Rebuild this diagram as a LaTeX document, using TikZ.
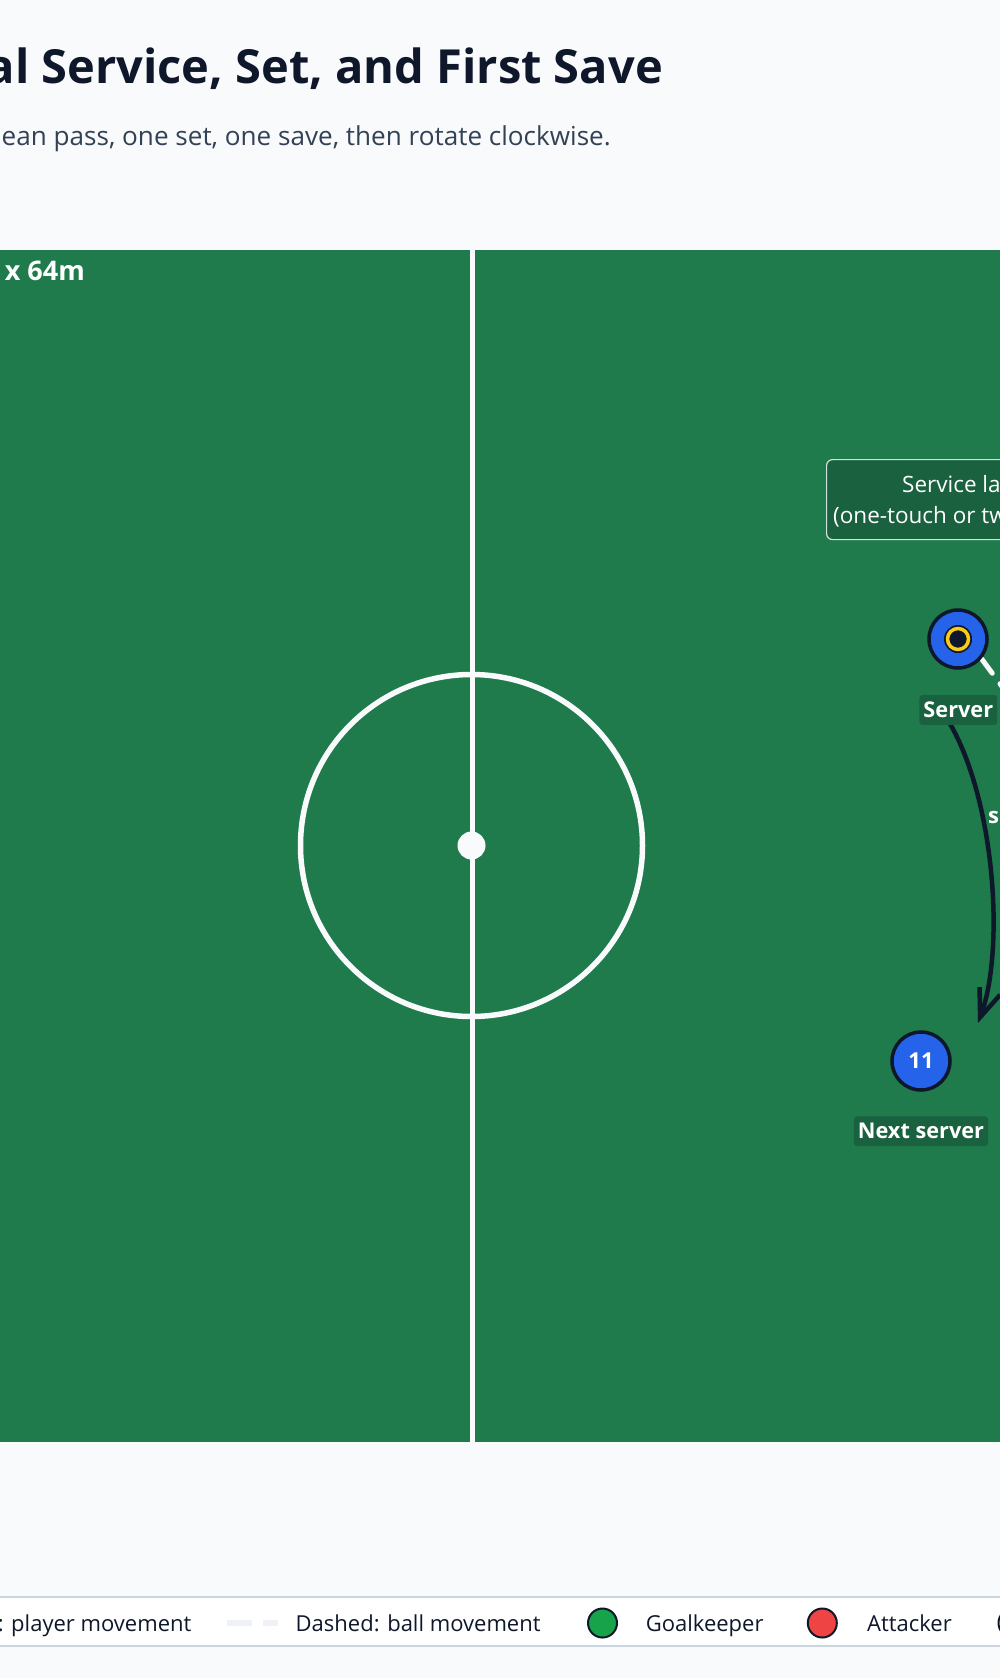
\documentclass[tikz,border=0pt]{standalone}
\usepackage{fontspec}
\setmainfont{Open Sans}
\usetikzlibrary{arrows.meta}
\definecolor{bgc}{HTML}{F8FAFC}
\definecolor{pitchc}{HTML}{1F7A4C}
\definecolor{linec}{HTML}{F8FAFC}
\definecolor{darkc}{HTML}{0F172A}
\definecolor{subc}{HTML}{334155}
\definecolor{bluec}{HTML}{2563EB}
\definecolor{yellowc}{HTML}{FACC15}
\definecolor{tagc}{HTML}{1A6140}
\definecolor{legbord}{HTML}{CBD5E1}
\definecolor{gkc}{HTML}{16A34A}
\definecolor{redc}{HTML}{EF4444}
\definecolor{dashc}{HTML}{EEF2F7}
\newcommand\pxs[1]{\fontsize{#1}{#1}\selectfont}
\pgfdeclarelayer{back}
\pgfdeclarelayer{conn}
\pgfsetlayers{back,conn,main}
\begin{document}
\begin{tikzpicture}[x=1pt,y=-1pt,
  player/.style={circle, fill=bluec, draw=darkc, line width=3.5pt, minimum size=58pt, inner sep=0pt, text=white, font=\bfseries\pxs{22}},
  tagbox/.style={fill=tagc, rounded corners=3pt, text=white, font=\bfseries\pxs{21.7}, inner xsep=4pt, inner ysep=7pt},
  plaintext/.style={inner sep=0pt},
  legdot/.style={circle, draw=darkc, line width=2pt, minimum size=29pt, inner sep=0pt},
  legtext/.style={inner sep=0pt, font=\pxs{22}, text=darkc},
  ballline/.style={linec, line width=5pt, line cap=round, dash pattern=on 18pt off 13pt},
  moveline/.style={darkc, line width=4.5pt, line cap=round, -{Straight Barb[length=28pt,width=22pt]}}
]
\useasboundingbox (0,0) rectangle (1000,1678);
\begin{pgfonlayer}{back}
\fill[bgc] (0,0) rectangle (1000,1678);
\fill[pitchc] (-10,250) rectangle (1010,1442);
\draw[linec, line width=5pt] (472,250) -- (472,1442);
\draw[linec, line width=5.5pt] (471.5,845.5) circle (171pt);
\fill[linec] (471.5,845.5) circle (14pt);
\end{pgfonlayer}

% titles
\node[plaintext, anchor=base east, font=\bfseries\pxs{47}, text=darkc] (title) at (663,83) {al Service, Set, and First Save};
\node[plaintext, anchor=base east, font=\pxs{26.1}, text=subc] (subtitle) at (611,145) {ean pass, one set, one save, then rotate clockwise.};

% pitch label
\node[plaintext, anchor=base east, font=\bfseries\pxs{27}, text=white] (dims) at (85,280) {x 64m};

% service lane box
\node[draw=white, draw opacity=0.8, fill=tagc, rounded corners=6pt, line width=1.2pt,
      minimum width=300pt, minimum height=80pt, anchor=north west, inner sep=0pt] (svcbox) at (826,459) {};
\node[plaintext, anchor=base west, font=\pxs{22.5}, text=white] (svc1) at (902,492) {Service lane};
\node[plaintext, anchor=base west, font=\pxs{22.5}, text=white] (svc2) at (833,523) {(one-touch or two-touch)};

% players
\node[player] (server) at (958,639) {};
\node[circle, fill=darkc, minimum size=28pt, inner sep=0pt] (ball) at (server.center) {};
\draw[yellowc, line width=3.5pt] (ball.center) circle (10.5pt);
\node[tagbox] (srvlbl) at (958.3,710) {Server};

\node[player] (p11) at (921,1061) {11};
\node[tagbox] (nxtlbl) at (921,1131.3) {Next server};

\node[plaintext, anchor=base west, font=\bfseries\pxs{22}, text=white] (slbl) at (988,823) {s};

% connectors
\coordinate (ballend) at (1094,811);
\coordinate (cstart) at (949,722);
\coordinate (cend) at (978,1023);
\begin{pgfonlayer}{conn}
\draw[ballline] (server.-40) -- (ballend);
\draw[moveline] (cstart) .. controls (995,800) and (1005,950) .. (cend);
\end{pgfonlayer}

% legend
\draw[legbord, line width=2pt, fill=white] (-20,1597) rectangle (1020,1646);
\node[legtext, anchor=base east] (legsolid) at (191.6,1631) {: player movement};
\coordinate (ldash1) at (226.7,1622.7);
\coordinate (ldash2) at (278.3,1622.7);
\draw[dashc, line width=6pt, dash pattern=on 25.6pt off 10.7pt] (ldash1) -- (ldash2);
\node[legtext, anchor=base west] (legdash) at (295.5,1631) {Dashed: ball movement};
\node[legdot, fill=gkc] (leggk) at (602.5,1623) {};
\node[legtext, anchor=base west] (leggktext) at (645.6,1631) {Goalkeeper};
\node[legdot, fill=redc] (legatt) at (822.3,1623) {};
\node[legtext, anchor=base west] (legatttext) at (867,1631) {Attacker};
\node[legdot, fill=white] (legnext) at (1013,1623) {};
\end{tikzpicture}
\end{document}
